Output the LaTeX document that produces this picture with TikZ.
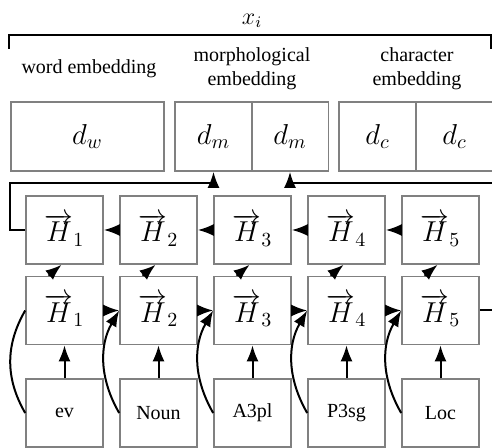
\documentclass[tikz,border=0pt]{standalone}
\usepackage{fontspec}
\setmainfont{Liberation Serif}
\usetikzlibrary{arrows.meta}

\begin{document}
\begin{tikzpicture}[x=0.5pt,y=-0.5pt,>={Latex[length=8pt,width=6pt]},
    cell/.style={draw=gray,line width=0.8pt,minimum width=38.5pt,minimum height=34pt,inner sep=0pt,font=\Large},
    link/.style={->,line width=1pt}]
    \useasboundingbox (0,0) rectangle (492,448);
    \clip (0,0) rectangle (492,448);
    % embedding of x_i
    \node (xlab) at (252,21) {\large $x_i$};
    \draw[line width=1pt] (9,49) -- (9,35) -- (491,35) -- (491,49);
    \node (wlab) at (89,69) {word embedding};
    \node[align=center] (mlab) at (252,69) {morphological\\embedding};
    \node[align=center] (clab) at (417,69) {character\\embedding};
    \node[cell,minimum width=76.5pt,minimum height=34.5pt] (dw) at (87.5,136.5) {$d_w$};
    \node[cell,minimum height=34.5pt] (dm1) at (213.5,136.5) {$d_m$};
    \node[cell,minimum height=34.5pt] (dm2) at (290,136.5) {$d_m$};
    \node[cell,minimum height=34.5pt] (dc1) at (377.5,136.5) {$d_c$};
    \node[cell,minimum height=34.5pt] (dc2) at (454.5,136.5) {$d_c$};
    % BiLSTM over the morphemes
    \foreach \i/\tag in {1/ev,2/Noun,3/A3pl,4/P3sg,5/Loc} {
        \node[cell] (hb\i) at (64.5+94*\i-94,230) {$\overrightarrow{H}_\i$};
        \node[cell] (hf\i) at (64.5+94*\i-94,310.5) {$\overrightarrow{H}_\i$};
        \node[cell,font=\normalsize] (in\i) at (64.5+94*\i-94,413) {\tag};
        \draw[link] (in\i.north) -- (hf\i.south);
        \draw[link] ([xshift=-8pt]hf\i.north) -- ([xshift=-1.5pt]hb\i.south);
    }
    \draw[line width=1pt] (in1.west) to[bend left=30] (hf1.west);
    \foreach \i [count=\j from 2] in {1,...,4} {
        \draw[link] (hf\i.east) -- (hf\j.west);
        \draw[link] (hb\j.west) -- (hb\i.east);
        \draw[link] (in\j.west) to[bend left=30] (hf\j.west);
    }
    % outputs to the morphological embedding
    \coordinate (bk) at (10,183);
    \coordinate (fw) at (510,183);
    \draw[link] (hb1.west) -| (bk) -| (dm1.south);
    \draw[link] (hf5.east) -| (fw) -| (dm2.south);
\end{tikzpicture}
\end{document}
